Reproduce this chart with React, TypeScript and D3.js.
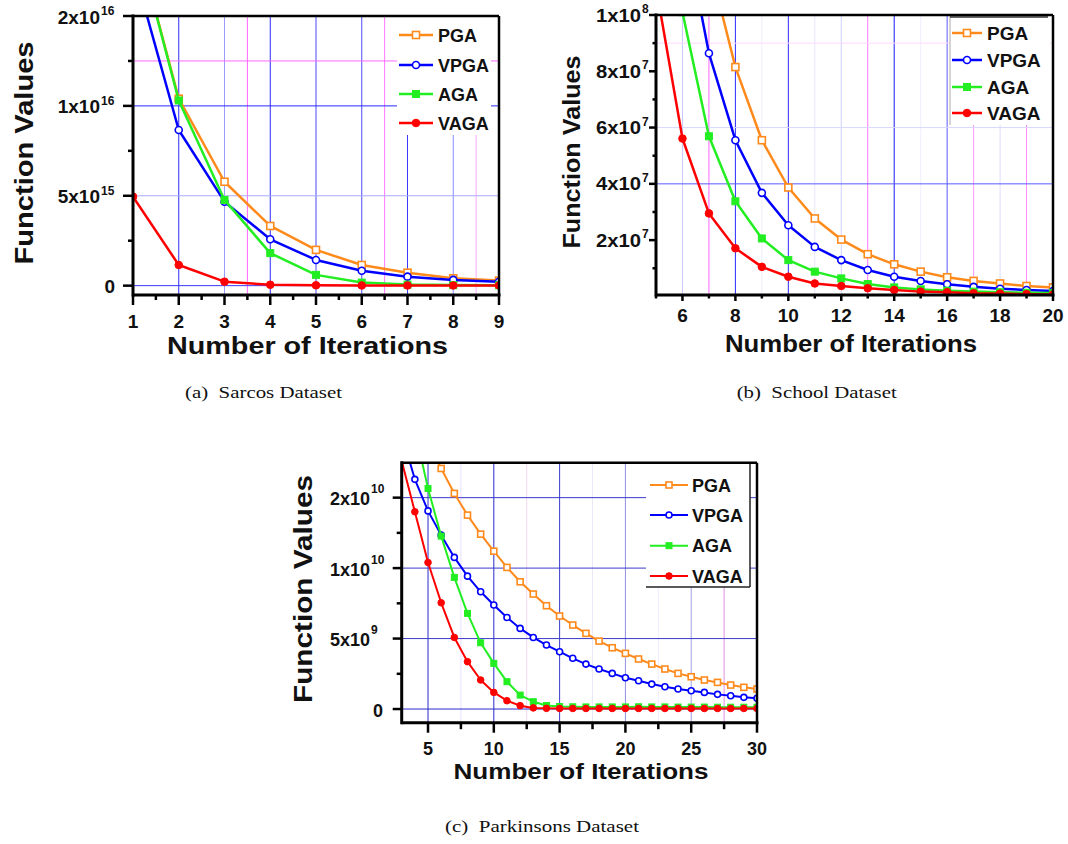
import React from "react";
import * as d3 from "d3";

// ---------------- DATA ----------------
const SERIES_NAMES = ["PGA", "VPGA", "AGA", "VAGA"];

// (a) Sarcos
const SARCOS_X = [1, 2, 3, 4, 5, 6, 7, 8, 9];
const SARCOS_PGA = [2.0e16, 1.04e16, 5.78e15, 3.32e15, 1.99e15, 1.15e15, 7.2e14, 4.1e14, 2.8e14];
const SARCOS_VPGA = [1.78e16, 8.66e15, 4.67e15, 2.58e15, 1.43e15, 8.3e14, 5.0e14, 3.2e14, 2.2e14];
const SARCOS_AGA = [2.0e16, 1.03e16, 4.77e15, 1.81e15, 6.0e14, 1.7e14, 6e13, 3e13, 2e13];
const SARCOS_VAGA = [4.95e15, 1.15e15, 2.2e14, 5e13, 2e13, 1e13, 1e13, 1e13, 1e13];
const SARCOS_XTICKS = [1, 2, 3, 4, 5, 6, 7, 8, 9];
const SARCOS_YTICKS = [0, 5e15, 1e16, 1.5e16];
const SARCOS_YTICK_LABELS = ["0", "5x10^15", "1x10^16", "2x10^16"];

// (b) School
const SCHOOL_X = [5, 6, 7, 8, 9, 10, 11, 12, 13, 14, 15, 16, 17, 18, 19, 20];
const SCHOOL_PGA = [2.4e8, 1.7e8, 1.19e8, 8.15e7, 5.55e7, 3.87e7, 2.77e7, 2.02e7, 1.5e7, 1.14e7, 8.8e6, 6.8e6, 5.5e6, 4.6e6, 3.7e6, 3.2e6];
const SCHOOL_VPGA = [1.9e8, 1.35e8, 8.64e7, 5.55e7, 3.68e7, 2.53e7, 1.76e7, 1.29e7, 9.4e6, 7.0e6, 5.5e6, 4.3e6, 3.4e6, 2.7e6, 2.3e6, 1.9e6];
const SCHOOL_AGA = [1.6e8, 1.01e8, 5.69e7, 3.38e7, 2.06e7, 1.29e7, 8.8e6, 6.4e6, 4.4e6, 3.2e6, 2.5e6, 2.0e6, 1.7e6, 1.5e6, 1.3e6, 1.2e6];
const SCHOOL_VAGA = [1.1e8, 5.61e7, 2.95e7, 1.71e7, 1.05e7, 7.0e6, 4.6e6, 3.7e6, 2.9e6, 2.3e6, 1.7e6, 1.5e6, 1.1e6, 1.0e6, 0.8e6, 0.7e6];
const SCHOOL_XTICKS = [6, 8, 10, 12, 14, 16, 18, 20];
const SCHOOL_YTICKS = [2e7, 4e7, 6e7, 8e7, 1e8];
const SCHOOL_YTICK_LABELS = ["2x10^7", "4x10^7", "6x10^7", "8x10^7", "1x10^8"];

// (c) Parkinsons
const PARK_X = [3, 4, 5, 6, 7, 8, 9, 10, 11, 12, 13, 14, 15, 16, 17, 18, 19, 20, 21, 22, 23, 24, 25, 26, 27, 28, 29, 30];
const PARK_PGA = [2.35e10, 2.12e10, 1.91e10, 1.707e10, 1.53e10, 1.376e10, 1.241e10, 1.12e10, 1.005e10, 9.03e9, 8.16e9, 7.33e9, 6.6e9, 5.96e9, 5.37e9, 4.82e9, 4.35e9, 3.95e9, 3.55e9, 3.19e9, 2.84e9, 2.53e9, 2.29e9, 2.06e9, 1.89e9, 1.7e9, 1.54e9, 1.42e9];
const PARK_VPGA = [1.95e10, 1.63e10, 1.406e10, 1.234e10, 1.076e10, 9.43e9, 8.32e9, 7.38e9, 6.5e9, 5.72e9, 5.08e9, 4.54e9, 4.07e9, 3.6e9, 3.19e9, 2.84e9, 2.53e9, 2.22e9, 2.01e9, 1.77e9, 1.58e9, 1.42e9, 1.3e9, 1.18e9, 1.04e9, 0.94e9, 0.83e9, 0.76e9];
const PARK_AGA = [2.45e10, 1.98e10, 1.565e10, 1.227e10, 9.34e9, 6.79e9, 4.7e9, 3.24e9, 1.94e9, 0.99e9, 0.52e9, 0.25e9, 0.18e9, 0.16e9, 0.15e9, 0.15e9, 0.15e9, 0.15e9, 0.16e9, 0.15e9, 0.15e9, 0.14e9, 0.14e9, 0.14e9, 0.13e9, 0.13e9, 0.13e9, 0.13e9];
const PARK_VAGA = [1.76e10, 1.4e10, 1.04e10, 7.54e9, 5.08e9, 3.36e9, 2.06e9, 1.18e9, 0.59e9, 0.24e9, 0.08e9, 0.05e9, 0.04e9, 0.04e9, 0.04e9, 0.04e9, 0.04e9, 0.04e9, 0.04e9, 0.04e9, 0.04e9, 0.04e9, 0.04e9, 0.04e9, 0.04e9, 0.04e9, 0.04e9, 0.04e9];
const PARK_XTICKS = [5, 10, 15, 20, 25, 30];
const PARK_YTICKS = [0, 5e9, 1e10, 1.5e10];
const PARK_YTICK_LABELS = ["0", "5x10^9", "1x10^10", "2x10^10"];

const X_TITLE = "Number of Iterations";
const Y_TITLE = "Function Values";
const CAPTIONS = ["(a)  Sarcos Dataset", "(b)  School Dataset", "(c)  Parkinsons Dataset"];

// ---------------- STYLE ----------------
const COLORS = ["#ff8a1c", "#0000ff", "#22ee22", "#ff0000"];
const MARKERS = ["sqOpen", "circOpen", "sq", "circ"];
const SANS = "'Liberation Sans', Arial, sans-serif";
const SERIF = "'Liberation Serif', 'Times New Roman', serif";

type Cfg = any;

const panels: Cfg[] = [
  {
    id: "a",
    xs: SARCOS_X,
    series: [SARCOS_PGA, SARCOS_VPGA, SARCOS_AGA, SARCOS_VAGA],
    xDomain: [1, 9], yDomain: [-5.2e14, 1.5e16],
    left: 133, right: 499, top: 16, bottom: 295,
    xTicks: SARCOS_XTICKS, xMinor: [1.5, 2.5, 3.5, 4.5, 5.5, 6.5, 7.5, 8.5],
    yTicks: SARCOS_YTICKS, yLabels: SARCOS_YTICK_LABELS, yMinor: [2.5e15, 7.5e15, 1.25e16],
    xGrid: [[2, "#2a2aff"], [3, "#9a9aff"], [3.5, "#ff66ff"], [4, "#2a2aff"], [5, "#4a4aff"], [6, "#4a4aff"], [6.5, "#ff77ff"], [7, "#3a3aff"], [8, "#8a8aff"], [8.5, "#ffaaff"]],
    yGrid: [[0, "#3a3aff"], [5e15, "#aaaaff"], [1e16, "#2a2aff"], [1.25e16, "#ff66ff"]],
    xMajorLen: 10, xMinorLen: 5, yMajorLen: 10, yMinorLen: 5,
    mainRight: 100, zeroRight: 115, mainFont: 19, mainDy: 7.5, supFont: 12, supDy: -1,
    xTickFont: 19, xTickBase: 328,
    xTitle: { cx: 307.5, base: 354, len: 281, font: 24 },
    yTitle: { x: 33, cy: 153, len: 223, font: 25 },
    legend: { x0: 397, y0: 16, x1: 491, y1: 135, lx0: 399, lx1: 433, mx: 416, tx: 438, rows: [35, 65, 94, 123], font: 18, border: "none" },
    mSize: 7, lw: 2.5,
    caption: { cx: 263.5, base: 398, len: 157 },
  },
  {
    id: "b",
    xs: SCHOOL_X,
    series: [SCHOOL_PGA, SCHOOL_VPGA, SCHOOL_AGA, SCHOOL_VAGA],
    xDomain: [5, 20], yDomain: [5e5, 1e8],
    left: 656, right: 1053, top: 15, bottom: 295,
    xTicks: SCHOOL_XTICKS, xMinor: [5, 7, 9, 11, 13, 15, 17, 19],
    yTicks: SCHOOL_YTICKS, yLabels: SCHOOL_YTICK_LABELS, yMinor: [1e7, 3e7, 5e7, 7e7, 9e7],
    xGrid: [[6, "#c8c8ff"], [7, "#ff66ff"], [8, "#2a2aff"], [9, "#eeeeff"], [10, "#2a2aff"], [11, "#e6e6ff"], [12, "#d0d0ff"], [13, "#ff77ff"], [14, "#1a1aff"], [15, "#eeeeff"], [16, "#5a5aff"], [17, "#ff99ff"], [18, "#dcdcff"], [19, "#ff88ff"]],
    yGrid: [[4e7, "#5a5aff"], [6e7, "#d8d8ff"], [9e7, "#ffd8ff"]],
    xMajorLen: 6, xMinorLen: 3.5, yMajorLen: 7, yMinorLen: 3.5,
    mainRight: 641, zeroRight: 650, mainFont: 18, mainLen: 45, mainDy: 6.5, supFont: 12, supDy: -2,
    xTickFont: 19, xTickBase: 321.7,
    xTitle: { cx: 851, base: 351.7, len: 252, font: 23 },
    yTitle: { x: 580, cy: 152, len: 193, font: 24 },
    legend: { x0: 950, y0: 16, x1: 1050, y1: 125, lx0: 952, lx1: 982, mx: 967, tx: 987, rows: [33, 60, 87, 113], font: 19, border: "topleft" },
    mSize: 7, lw: 2.5,
    caption: { cx: 816.7, base: 398, len: 160 },
  },
  {
    id: "c",
    xs: PARK_X,
    series: [PARK_PGA, PARK_VPGA, PARK_AGA, PARK_VAGA],
    xDomain: [3, 30], yDomain: [-0.97e9, 1.748e10],
    left: 401.7, right: 757, top: 462.7, bottom: 722.7,
    xTicks: PARK_XTICKS, xMinor: [7.5, 12.5, 17.5, 22.5, 27.5],
    yTicks: PARK_YTICKS, yLabels: PARK_YTICK_LABELS, yMinor: [2.5e9, 7.5e9, 1.25e10],
    xGrid: [[5, "#2a2acc"], [7.5, "#e8e0ff"], [10, "#2a2acc"], [12.5, "#f0d8f0"], [15, "#3a3acc"], [17.5, "#e8e8f8"], [20, "#9090e0"], [22.5, "#eeeeff"], [25, "#a0a0e8"], [27.5, "#e090e0"]],
    yGrid: [[0, "#2a2acc"], [5e9, "#3a3acc"], [1e10, "#3a3acc"], [1.5e10, "#3a3acc"]],
    xMajorLen: 10, xMinorLen: 6.5, yMajorLen: 9, yMinorLen: 5,
    mainRight: 370, zeroRight: 383, mainFont: 18, mainDy: 7.5, supFont: 12, supDy: -4.5,
    xTickFont: 18, xTickBase: 755,
    xTitle: { cx: 581, base: 778.5, len: 255, font: 21.5 },
    yTitle: { x: 311.7, cy: 589, len: 228, font: 25 },
    legend: { x0: 646, y0: 464, x1: 750, y1: 587, lx0: 650, lx1: 688, mx: 669, tx: 692, rows: [485, 515, 545.7, 576], font: 18, border: "rightbottom" },
    mSize: 6, lw: 2,
    caption: { cx: 542, base: 832, len: 194 },
  },
];

function Marker({ type, x, y, color, size }: any) {
  const h = size / 2;
  if (type === "sqOpen")
    return <rect x={x - h} y={y - h} width={size} height={size} fill="#fff" stroke={color} strokeWidth={1.6} />;
  if (type === "sq")
    return <rect x={x - h} y={y - h} width={size} height={size} fill={color} stroke={color} strokeWidth={1} />;
  if (type === "circOpen")
    return <circle cx={x} cy={y} r={h} fill="#fff" stroke={color} strokeWidth={1.6} />;
  return <circle cx={x} cy={y} r={h + 0.3} fill={color} stroke={color} strokeWidth={1} />;
}

function Panel({ cfg, idx }: { cfg: Cfg; idx: number }) {
  const xs = d3.scaleLinear().domain(cfg.xDomain).range([cfg.left, cfg.right]);
  const ys = d3.scaleLinear().domain(cfg.yDomain).range([cfg.bottom, cfg.top]);
  const clipId = "clip-" + cfg.id;
  const line = d3
    .line<[number, number]>()
    .x((d) => xs(d[0]))
    .y((d) => ys(d[1]));
  const lg = cfg.legend;
  return (
    <g>
      <defs>
        <clipPath id={clipId}>
          <rect x={cfg.left} y={cfg.top} width={cfg.right - cfg.left} height={cfg.bottom - cfg.top} />
        </clipPath>
      </defs>
      {/* grid */}
      {cfg.xGrid.map(([v, c]: any, i: number) => (
        <line key={"xg" + i} x1={xs(v)} x2={xs(v)} y1={cfg.top} y2={cfg.bottom} stroke={c} strokeWidth={1} />
      ))}
      {cfg.yGrid.map(([v, c]: any, i: number) => (
        <line key={"yg" + i} x1={cfg.left} x2={cfg.right} y1={ys(v)} y2={ys(v)} stroke={c} strokeWidth={1} />
      ))}
      {/* legend background */}
      <rect x={lg.x0} y={lg.y0} width={lg.x1 - lg.x0} height={lg.y1 - lg.y0} fill="#fff" />
      {lg.border === "topleft" && (
        <g>
          <line x1={lg.x0} x2={lg.x0} y1={lg.y0} y2={lg.y1} stroke="#aaa" strokeWidth={1} />
          <line x1={lg.x0} x2={lg.x1 - 2} y1={lg.y0 + 1} y2={lg.y0 + 1} stroke="#333" strokeWidth={1.5} />
        </g>
      )}
      {lg.border === "rightbottom" && (
        <g>
          <line x1={lg.x1} x2={lg.x1} y1={lg.y0} y2={lg.y1} stroke="#222" strokeWidth={1.5} />
          <line x1={lg.x0} x2={lg.x1} y1={lg.y1} y2={lg.y1} stroke="#222" strokeWidth={1.5} />
        </g>
      )}
      {/* series */}
      <g clipPath={`url(#${clipId})`}>
        {cfg.series.map((vals: number[], si: number) => {
          const pts: [number, number][] = cfg.xs.map((x: number, i: number) => [x, vals[i]]);
          return (
            <g key={"s" + si}>
              <path d={line(pts) || ""} fill="none" stroke={COLORS[si]} strokeWidth={cfg.lw} strokeLinejoin="round" />
              {pts.map((p, i) => (
                <Marker key={i} type={MARKERS[si]} x={xs(p[0])} y={ys(p[1])} color={COLORS[si]} size={cfg.mSize} />
              ))}
            </g>
          );
        })}
      </g>
      {/* legend items */}
      {SERIES_NAMES.map((name, si) => (
        <g key={"lg" + si}>
          <line x1={lg.lx0} x2={lg.lx1} y1={lg.rows[si]} y2={lg.rows[si]} stroke={COLORS[si]} strokeWidth={cfg.lw} />
          <Marker type={MARKERS[si]} x={lg.mx} y={lg.rows[si]} color={COLORS[si]} size={cfg.mSize} />
          <text x={lg.tx} y={lg.rows[si] + 6.5} fontFamily={SANS} fontWeight="bold" fontSize={lg.font} fill="#111">
            {name}
          </text>
        </g>
      ))}
      {/* frame */}
      <line x1={cfg.left} x2={cfg.right} y1={cfg.top} y2={cfg.top} stroke="#000" strokeWidth={2.5} />
      <line x1={cfg.right} x2={cfg.right} y1={cfg.top} y2={cfg.bottom} stroke="#000" strokeWidth={2.5} />
      <line x1={cfg.left} x2={cfg.right + 1.5} y1={cfg.bottom} y2={cfg.bottom} stroke="#000" strokeWidth={3} />
      <line x1={cfg.left} x2={cfg.left} y1={cfg.top - 1.5} y2={cfg.bottom + 1.5} stroke="#000" strokeWidth={3} />
      {/* x ticks */}
      {cfg.xTicks.map((v: number) => (
        <g key={"xt" + v}>
          <line x1={xs(v)} x2={xs(v)} y1={cfg.bottom} y2={cfg.bottom + cfg.xMajorLen} stroke="#000" strokeWidth={2.5} />
          <text x={xs(v)} y={cfg.xTickBase} textAnchor="middle" fontFamily={SANS} fontWeight="bold" fontSize={cfg.xTickFont} fill="#111">
            {v}
          </text>
        </g>
      ))}
      {cfg.xMinor.map((v: number) => (
        <line key={"xm" + v} x1={xs(v)} x2={xs(v)} y1={cfg.bottom} y2={cfg.bottom + cfg.xMinorLen} stroke="#000" strokeWidth={2.5} />
      ))}
      {/* y ticks */}
      {cfg.yTicks.map((v: number, i: number) => {
        const lab: string = cfg.yLabels[i];
        const [main, sup] = lab.split("^");
        const y = ys(v);
        return (
          <g key={"yt" + i}>
            <line x1={cfg.left - cfg.yMajorLen} x2={cfg.left} y1={y} y2={y} stroke="#000" strokeWidth={2.5} />
            {sup === undefined ? (
              <text x={cfg.zeroRight} y={y + cfg.mainDy} textAnchor="end" fontFamily={SANS} fontWeight="bold" fontSize={cfg.mainFont} fill="#111">
                {main}
              </text>
            ) : (
              <g>
                <text
                  x={cfg.mainRight}
                  y={y + cfg.mainDy}
                  textAnchor="end"
                  fontFamily={SANS}
                  fontWeight="bold"
                  fontSize={cfg.mainFont}
                  fill="#111"
                  {...(cfg.mainLen ? { textLength: cfg.mainLen, lengthAdjust: "spacingAndGlyphs" } : {})}
                >
                  {main}
                </text>
                <text x={cfg.mainRight + 1} y={y + cfg.supDy} fontFamily={SANS} fontWeight="bold" fontSize={cfg.supFont} fill="#111">
                  {sup}
                </text>
              </g>
            )}
          </g>
        );
      })}
      {cfg.yMinor.map((v: number) => (
        <line key={"ym" + v} x1={cfg.left - cfg.yMinorLen} x2={cfg.left} y1={ys(v)} y2={ys(v)} stroke="#000" strokeWidth={2.5} />
      ))}
      {/* titles */}
      <text
        x={cfg.xTitle.cx}
        y={cfg.xTitle.base}
        textAnchor="middle"
        fontFamily={SANS}
        fontWeight="bold"
        fontSize={cfg.xTitle.font}
        fill="#111"
        textLength={cfg.xTitle.len}
        lengthAdjust="spacingAndGlyphs"
      >
        {X_TITLE}
      </text>
      <text
        transform={`translate(${cfg.yTitle.x},${cfg.yTitle.cy}) rotate(-90)`}
        textAnchor="middle"
        fontFamily={SANS}
        fontWeight="bold"
        fontSize={cfg.yTitle.font}
        fill="#111"
        textLength={cfg.yTitle.len}
        lengthAdjust="spacingAndGlyphs"
      >
        {Y_TITLE}
      </text>
      {/* caption */}
      <text
        x={cfg.caption.cx}
        y={cfg.caption.base}
        textAnchor="middle"
        fontFamily={SERIF}
        fontSize={17}
        fill="#111"
        textLength={cfg.caption.len}
        lengthAdjust="spacingAndGlyphs"
        style={{ whiteSpace: "pre" }}
      >
        {CAPTIONS[idx]}
      </text>
    </g>
  );
}

export default function App() {
  return (
    <div style={{ position: "absolute", left: 0, top: 0 }}>
      <svg width={1068} height={844} viewBox="0 0 1068 844" style={{ display: "block", background: "#fff" }}>
        <rect x={0} y={0} width={1068} height={844} fill="#fff" />
        {panels.map((p, i) => (
          <Panel key={p.id} cfg={p} idx={i} />
        ))}
      </svg>
    </div>
  );
}
